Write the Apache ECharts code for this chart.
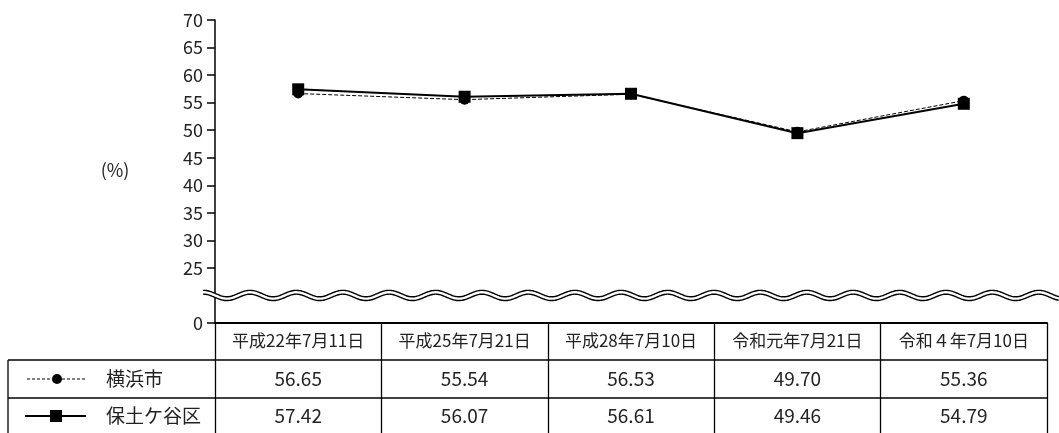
<!DOCTYPE html>
<html><head><meta charset="utf-8">
<script src="https://cdn.jsdelivr.net/npm/echarts@6/dist/echarts.min.js"></script>
<style>html,body{margin:0;padding:0;background:#fff}#c{width:1059px;height:433px}</style>
</head><body><div id="c"></div>
<script>
const categories = ['平成22年7月11日','平成25年7月21日','平成28年7月10日','令和元年7月21日','令和４年7月10日'];
const seriesNames = ['横浜市','保土ケ谷区'];
const yokohama = [56.65, 55.54, 56.53, 49.70, 55.36];
const hodogaya = [57.42, 56.07, 56.61, 49.46, 54.79];
const yTickLabels = [0, 25, 30, 35, 40, 45, 50, 55, 60, 65, 70];
const unitLabel = '(%)';

// broken axis: 0 is drawn just below the break, values >= 25 are drawn true to scale
const BREAK_LOW = 15;
function toAxis(v){ return v < 25 ? BREAK_LOW + v * (10 / 25) : v; }

const FONT = '"Noto Sans CJK JP", "Noto Sans", sans-serif';
const W = 1059, H = 433;
const GRID_LEFT = 215, GRID_RIGHT = 12, GRID_TOP = 20, GRID_BOTTOM = 110;

const chart = echarts.init(document.getElementById('c'), null, {renderer: 'canvas'});
const tickVals = yTickLabels.map(toAxis);

chart.setOption({
  animation: false,
  backgroundColor: '#fff',
  grid: {left: GRID_LEFT, right: GRID_RIGHT, top: GRID_TOP, bottom: GRID_BOTTOM, outerBoundsMode: 'none'},
  xAxis: {
    type: 'category', data: categories, boundaryGap: true,
    axisLine: {show: true, lineStyle: {color: '#000', width: 2}},
    axisTick: {show: true, length: GRID_BOTTOM, lineStyle: {color: '#000', width: 1.3}},
    axisLabel: {interval: 0, margin: 9, fontSize: 17, color: '#222', fontFamily: FONT},
    splitLine: {show: false}
  },
  yAxis: {
    type: 'value', min: 15, max: 70, interval: 5,
    axisLine: {show: true, lineStyle: {color: '#000', width: 1.5}},
    axisTick: {show: true, length: 8, customValues: tickVals, lineStyle: {color: '#000', width: 1.5}},
    axisLabel: {
      customValues: tickVals, margin: 12, fontSize: 18, color: '#222', fontFamily: FONT,
      formatter: function (v) { const i = tickVals.indexOf(v); return i >= 0 ? String(yTickLabels[i]) : ''; }
    },
    splitLine: {show: false}
  },
  series: [
    {name: seriesNames[1], type: 'line', data: hodogaya.map(toAxis), symbol: 'rect', symbolSize: 12,
     lineStyle: {color: '#000', width: 2}, itemStyle: {color: '#000'}, z: 2},
    {name: seriesNames[0], type: 'line', data: yokohama.map(toAxis), symbol: 'circle', symbolSize: 10,
     lineStyle: {color: '#000', width: 1, type: [4, 2]}, itemStyle: {color: '#000'}, z: 3}
  ]
});

// ---- decorations: break wave, table, legend cells ----
const yBase = chart.convertToPixel({yAxisIndex: 0}, BREAK_LOW);
const yWave = chart.convertToPixel({yAxisIndex: 0}, 20);
const xRight = W - GRID_RIGHT;
const TABLE_LEFT = 8;
const row1Top = yBase + 37, row2Top = yBase + 75;
const row1Mid = row1Top + 19, row2Mid = row2Top + 18;

const wavePts = [];
for (let x = 203; x <= W; x += 1) {
  wavePts.push([x, yWave - 3.2 * Math.cos(2 * Math.PI * (x - 250) / 46.4)]);
}

const g = [];
g.push({type: 'polyline', z: 100, shape: {points: wavePts}, style: {stroke: '#000', lineWidth: 5.2, fill: null}});
g.push({type: 'polyline', z: 101, shape: {points: wavePts}, style: {stroke: '#fff', lineWidth: 2.4, fill: null}});

// table horizontal lines
[row1Top, row2Top].forEach(function (y) {
  g.push({type: 'line', z: 50, shape: {x1: TABLE_LEFT, y1: y, x2: xRight, y2: y}, style: {stroke: '#000', lineWidth: 1.3}});
});
g.push({type: 'line', z: 50, shape: {x1: TABLE_LEFT, y1: row1Top, x2: TABLE_LEFT, y2: H}, style: {stroke: '#000', lineWidth: 1.3}});

// value cells
const rows = [[yokohama, row1Mid], [hodogaya, row2Mid]];
rows.forEach(function (r) {
  r[0].forEach(function (v, i) {
    const x = chart.convertToPixel({xAxisIndex: 0}, i);
    g.push({type: 'text', z: 60, x: x, y: r[1], style: {text: v.toFixed(2), fontSize: 19, fontFamily: FONT, fill: '#222', align: 'center', verticalAlign: 'middle'}});
  });
});

// legend cells
g.push({type: 'line', z: 60, shape: {x1: 27, y1: row1Mid, x2: 86, y2: row1Mid}, style: {stroke: '#000', lineWidth: 1, lineDash: [3, 2]}});
g.push({type: 'circle', z: 61, shape: {cx: 57, cy: row1Mid, r: 5}, style: {fill: '#000'}});
g.push({type: 'text', z: 60, x: 106, y: row1Mid, style: {text: seriesNames[0], fontSize: 19, fontFamily: FONT, fill: '#222', align: 'left', verticalAlign: 'middle'}});
g.push({type: 'line', z: 60, shape: {x1: 25, y1: row2Mid, x2: 86, y2: row2Mid}, style: {stroke: '#000', lineWidth: 2}});
g.push({type: 'rect', z: 61, shape: {x: 50, y: row2Mid - 6, width: 12, height: 12}, style: {fill: '#000'}});
g.push({type: 'text', z: 60, x: 106, y: row2Mid, style: {text: seriesNames[1], fontSize: 19, fontFamily: FONT, fill: '#222', align: 'left', verticalAlign: 'middle'}});

// unit label
g.push({type: 'text', z: 60, x: 115, y: 170, style: {text: unitLabel, fontSize: 18, fontFamily: FONT, fill: '#222', align: 'center', verticalAlign: 'middle'}});

chart.setOption({graphic: g});
</script>
</body></html>
